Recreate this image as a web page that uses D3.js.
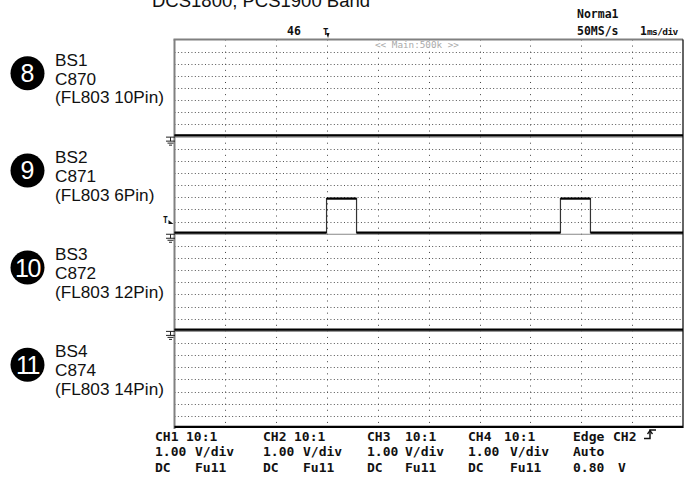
<!DOCTYPE html>
<html><head><meta charset="utf-8">
<script src="https://cdn.jsdelivr.net/npm/d3@7"></script>
<style>html,body{margin:0;padding:0;background:#fff;}svg{display:block;}</style>
</head><body>
<svg id="c" width="692" height="479"></svg>
<script>
// ---------- data ----------
const title = "DCS1800, PCS1900 Band";
const channelNums = ["8", "9", "10", "11"];
const channelNames = ["BS1", "BS2", "BS3", "BS4"];
const channelCaps = ["C870", "C871", "C872", "C874"];
const channelPins = ["(FL803 10Pin)", "(FL803 6Pin)", "(FL803 12Pin)", "(FL803 14Pin)"];
// time axis (ms), 1 ms/div, 10 divisions
const timeTicks = [1, 2, 3, 4, 5, 6, 7, 8, 9];
const voltTicks = [1, 2, 3, 4, 5, 6, 7];
// traces: times (ms) and volts
const ch1Times = [0, 10], ch1Volts = [0.1, 0.1];
const ch2Times = [0, 2.99, 2.99, 3.58, 3.58, 7.59, 7.59, 8.18, 8.18, 10];
const ch2Volts = [0.1, 0.1, 2.9, 2.9, 0.1, 0.1, 2.9, 2.9, 0.1, 0.1];
const ch3Times = [0, 10], ch3Volts = [0.1, 0.1];
const ch4Times = [0, 10], ch4Volts = [0.1, 0.1];
const triggerTime = 3.0, triggerLevel = 0.8, triggerChannel = 1;
const bottomRows = [
  [["CH1","10:1"],["CH2","10:1"],["CH3","10:1"],["CH4","10:1"],["Edge","CH2"]],
  [["1.00","V/div"],["1.00","V/div"],["1.00","V/div"],["1.00","V/div"],["Auto",""]],
  [["DC","Fu11"],["DC","Fu11"],["DC","Fu11"],["DC","Fu11"],["0.80","V"]]
];

// ---------- layout ----------
const svg = d3.select("#c");
const X0 = 174.5, X1 = 683, Y0 = 39.5, Y1 = 428;
const PH = (Y1 - Y0) / 4;
const x = d3.scaleLinear().domain([0, 10]).range([X0, X1]);
const yP = d3.range(4).map(i => d3.scaleLinear().domain([0, 8]).range([Y0 + (i + 1) * PH, Y0 + i * PH]));

// title
svg.append("text").attr("x", 152).attr("y", 6.5).attr("font-family", "Liberation Sans, Arial")
  .attr("font-size", 18.5).attr("fill", "#111").text(title);

// top scope labels
const mono = "DejaVu Sans Mono, monospace";
svg.append("text").attr("x", 577).attr("y", 18).attr("font-family", mono).attr("font-weight", "bold")
  .attr("font-size", 11.5).attr("fill", "#111").text("Norma1");
svg.append("text").attr("x", 577).attr("y", 35).attr("font-family", mono).attr("font-weight", "bold")
  .attr("font-size", 11.5).attr("fill", "#111").text("50MS/s");
const tdiv = svg.append("text").attr("x", 640).attr("y", 35).attr("font-family", mono).attr("font-weight", "bold")
  .attr("font-size", 11.5).attr("fill", "#111");
tdiv.append("tspan").text("1");
tdiv.append("tspan").attr("font-size", 9.5).attr("letter-spacing", -0.6).text("ms/div");
svg.append("text").attr("x", 287).attr("y", 35).attr("font-family", mono).attr("font-weight", "bold")
  .attr("font-size", 11.5).attr("fill", "#111").text("46");

// grid: horizontal dotted rows
const grid = svg.append("g");
yP.forEach(y => {
  grid.selectAll(null).data(voltTicks).enter().append("line")
    .attr("x1", X0).attr("x2", X1).attr("y1", d => Math.round(y(d)) + 0.5).attr("y2", d => Math.round(y(d)) + 0.5)
    .attr("stroke", "#555").attr("stroke-width", 1).attr("stroke-dasharray", "1,2.39");
});
// vertical dotted lines
grid.selectAll(null).data(timeTicks).enter().append("line")
  .attr("x1", d => Math.round(x(d)) + 0.5).attr("x2", d => Math.round(x(d)) + 0.5)
  .attr("y1", Y0).attr("y2", Y1)
  .attr("stroke", "#444").attr("stroke-width", 1).attr("stroke-dasharray", "1,5.07");

// "<< Main:500k >>" label
svg.append("rect").attr("x", 373).attr("y", 40.5).attr("width", 86).attr("height", 9).attr("fill", "#fff");
svg.append("text").attr("x", 375).attr("y", 48).attr("font-family", mono).attr("font-size", 9.3)
  .attr("fill", "#aaa").text("<< Main:500k >>");

// panel dividers
svg.selectAll(null).data([0, 1, 2]).enter().append("line")
  .attr("x1", X0).attr("x2", X1).attr("y1", i => yP[i](0) + 0.5).attr("y2", i => yP[i](0) + 0.5)
  .attr("stroke", "#888").attr("stroke-width", 1);

// frame
svg.append("line").attr("x1", X0 - 1).attr("x2", X1).attr("y1", Y0).attr("y2", Y0).attr("stroke", "#808080").attr("stroke-width", 2);
svg.append("line").attr("x1", X0).attr("x2", X0).attr("y1", Y0).attr("y2", Y1 + 1).attr("stroke", "#808080").attr("stroke-width", 2);
svg.append("line").attr("x1", X1).attr("x2", X1).attr("y1", Y0).attr("y2", Y1).attr("stroke", "#111").attr("stroke-width", 1.3);

// traces
const traces = [[ch1Times, ch1Volts], [ch2Times, ch2Volts], [ch3Times, ch3Volts], [ch4Times, ch4Volts]];
traces.forEach(([ts, vs], i) => {
  const pts = ts.map((t, k) => [t, vs[k]]);
  const line = d3.line().x(d => x(d[0])).y(d => yP[i](d[1]));
  svg.append("path").attr("d", line(pts)).attr("fill", "none").attr("stroke", "#333").attr("stroke-width", 1.2);
  for (let k = 0; k < pts.length - 1; k++) {
    if (pts[k][1] === pts[k + 1][1]) {
      svg.append("line").attr("x1", x(pts[k][0])).attr("x2", x(pts[k + 1][0]))
        .attr("y1", yP[i](pts[k][1])).attr("y2", yP[i](pts[k][1]))
        .attr("stroke", "#000").attr("stroke-width", 2.2);
    }
  }
});

// ground markers
[0, 1, 2].forEach(i => {
  const gy = yP[i](0) + 0.5, gx = 170.5;
  const g = svg.append("g").attr("stroke", "#222").attr("stroke-width", 1);
  g.append("line").attr("x1", gx - 4.5).attr("x2", gx + 4.5).attr("y1", gy).attr("y2", gy);
  g.append("line").attr("x1", gx).attr("x2", gx).attr("y1", gy).attr("y2", gy + 4);
  g.append("line").attr("x1", gx - 4.5).attr("x2", gx + 4.5).attr("y1", gy + 4).attr("y2", gy + 4);
  g.append("line").attr("x1", gx - 3).attr("x2", gx + 3).attr("y1", gy + 6).attr("y2", gy + 6);
  g.append("line").attr("x1", gx - 1.5).attr("x2", gx + 1.5).attr("y1", gy + 8).attr("y2", gy + 8);
});

// trigger level marker (left)
const ty = yP[triggerChannel](triggerLevel);
svg.append("text").attr("x", 163).attr("y", ty - 1).attr("font-family", mono).attr("font-weight", "bold")
  .attr("font-size", 8).attr("fill", "#111").text("T");
svg.append("path").attr("d", `M${X0 - 6},${ty - 4} L${X0 - 1},${ty} L${X0 - 6},${ty}Z`).attr("fill", "#111");
// trigger time marker (top)
const tx = x(triggerTime);
svg.append("text").attr("x", tx - 4).attr("y", 35).attr("font-family", mono).attr("font-weight", "bold")
  .attr("font-size", 9).attr("fill", "#111").text("T");
svg.append("path").attr("d", `M${tx - 1},${33} L${tx + 2.5},${33} L${tx + 1},${38}Z`).attr("fill", "#111");

// left labels
d3.range(4).forEach(i => {
  const oy = i * PH;
  svg.append("circle").attr("cx", 27.5).attr("cy", 73.3 + oy).attr("r", 17).attr("fill", "#000");
  svg.append("text").attr("x", 27.5).attr("y", 73.3 + oy + 9).attr("text-anchor", "middle")
    .attr("font-family", "Liberation Sans, Arial").attr("font-size", 25)
    .attr("letter-spacing", channelNums[i].length > 1 ? -1.5 : 0)
    .attr("fill", "#fff").text(channelNums[i]);
  const lt = [channelNames[i], channelCaps[i], channelPins[i]];
  lt.forEach((s, k) => {
    svg.append("text").attr("x", 55).attr("y", 66 + k * 18.7 + oy)
      .attr("font-family", "Liberation Sans, Arial").attr("font-size", 17.2).attr("fill", "#111").text(s);
  });
});

// bottom labels
const colX = [155, 263, 367, 468, 573];
const off2 = [[31, 40, 40], [31, 40, 40], [38, 38, 38], [36, 42, 42], [40, 0, 45]];
bottomRows.forEach((row, r) => {
  row.forEach((pair, c) => {
    const yb = 441 + r * 15.3;
    svg.append("text").attr("x", colX[c]).attr("y", yb).attr("font-family", mono).attr("font-weight", "bold")
      .attr("font-size", 13).attr("fill", "#111").text(pair[0]);
    if (pair[1]) svg.append("text").attr("x", colX[c] + off2[c][r]).attr("y", yb).attr("font-family", mono).attr("font-weight", "bold")
      .attr("font-size", 13).attr("fill", "#111").text(pair[1]);
  });
});
// edge symbol
svg.append("path").attr("d", "M644,438.5 H650 V430 H656").attr("fill", "none").attr("stroke", "#111").attr("stroke-width", 1.5);
svg.append("path").attr("d", "M647.5,434 L650,430.5 L652.5,434").attr("fill", "none").attr("stroke", "#111").attr("stroke-width", 1.3);
</script>
</body></html>
